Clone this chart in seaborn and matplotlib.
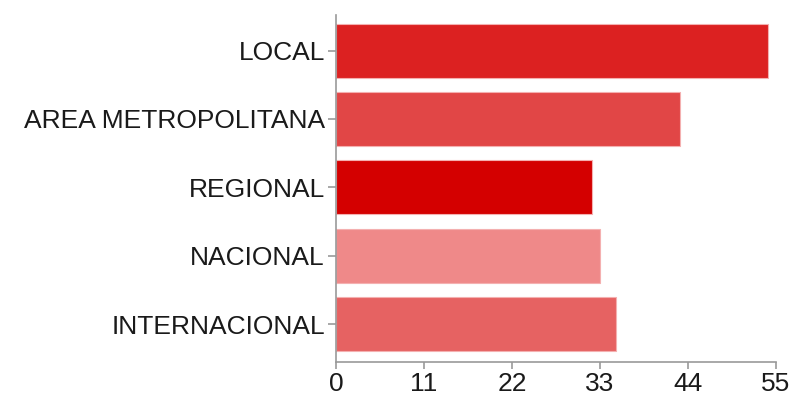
import matplotlib
matplotlib.use("Agg")
import matplotlib.pyplot as plt
import seaborn as sns
import pandas as pd

categories = ["LOCAL", "AREA METROPOLITANA", "REGIONAL", "NACIONAL", "INTERNACIONAL"]
values = [54, 43, 32, 33, 35]
colors = ["#dc2121", "#e14646", "#d40000", "#ef8989", "#e66262"]
ticks = [0, 11, 22, 33, 44, 55]

sns.set_theme(style="white")
plt.rcParams['font.family'] = ['Liberation Sans', 'DejaVu Sans']

df = pd.DataFrame({"cat": categories, "val": values})

fig = plt.figure(figsize=(7.93, 3.96), dpi=100)
ax = fig.add_axes([0.4237, 0.0859, 0.5549, 0.876])
sns.barplot(data=df, y="cat", x="val", hue="cat", palette=colors, order=categories,
            hue_order=categories, legend=False, width=0.79, ax=ax,
            edgecolor="#f4b0b0", linewidth=0.8, saturation=1)

ax.set_xlim(0, 55)
ax.set_ylim(4.555, -0.52)
ax.set_xticks(ticks)
ax.set_xticklabels([str(t) for t in ticks])
ax.set_xlabel("")
ax.set_ylabel("")
for s in ["top", "right"]:
    ax.spines[s].set_visible(False)
for s in ["left", "bottom"]:
    ax.spines[s].set_color("#999999")
    ax.spines[s].set_linewidth(1.2)
ax.tick_params(axis="x", bottom=True, length=5, width=1.2, color="#999999",
               labelsize=19, labelcolor="#1a1a1a", pad=2)
ax.tick_params(axis="y", left=True, length=6, width=1.2, color="#999999",
               labelsize=19, labelcolor="#1a1a1a", pad=2)

fig.savefig("out.png", dpi=100)
